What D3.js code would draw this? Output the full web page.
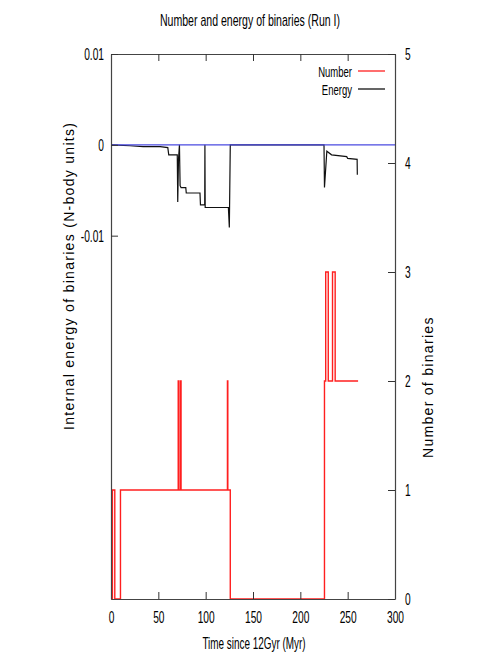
<!DOCTYPE html>
<html>
<head>
<meta charset="utf-8">
<title>Number and energy of binaries</title>
<script src="https://d3js.org/d3.v7.min.js"></script>
<style>
  body { margin: 0; background: #fff; }
  svg text { font-family: 'Liberation Sans', Arial, Helvetica, sans-serif; fill: #000; }
</style>
</head>
<body>
<div id="chart"></div>
<script>
// energy of binaries (N-body units) against time since 12 Gyr (Myr)
const energyTime = [0, 20, 34, 52, 60, 61, 70, 70.5, 71.3, 72.3, 73, 74, 79, 79.5, 94, 94.5, 99, 99.2, 99.5, 124, 125, 126, 126.5, 225, 225.5, 228, 233, 249, 250, 260, 260.2]
const energyValue = [0, -0.0001, -0.0002, -0.0002, -0.0003, -0.0011, -0.0011, -0.0063, -0.0016, 0, -0.0045, -0.0047, -0.0047, -0.0053, -0.0053, -0.0066, -0.0066, 0, -0.0069, -0.0069, -0.0091, 0, 0, 0, -0.0047, -0.0007, -0.0011, -0.0013, -0.0015, -0.0016, -0.0033]

// number of binaries (step changes)
const numberTime = [0, 1.5, 1.5, 4, 4, 10, 10, 71, 71, 71.6, 71.6, 73.4, 73.4, 74, 74, 123, 123, 123.4, 123.4, 126, 126, 225.5, 225.5, 226.8, 226.8, 229.5, 229.5, 234, 234, 236.8, 236.8, 261]
const numberValue = [0, 0, 1, 1, 0, 0, 1, 1, 2, 2, 1, 1, 2, 2, 1, 1, 2, 2, 1, 1, 0, 0, 2, 2, 3, 3, 2, 2, 3, 3, 2, 2]

const xTicks = [0, 50, 100, 150, 200, 250, 300]
const yLeftTicks = [0.01, 0, -0.01]
const yLeftLabels = ["0.01", "0", "-0.01"]
const yRightTicks = [0, 1, 2, 3, 4, 5]

const w = 491, h = 654
const margin = { top: 54, right: 96, bottom: 55, left: 111 }
const squeeze = 0.6   // gnuplot's narrow text

const svg = d3.select("#chart").append("svg").attr("width", w).attr("height", h)

const x = d3.scaleLinear().domain([0, 300]).range([margin.left, w - margin.right])
const yE = d3.scaleLinear().domain([-0.05, 0.01]).range([h - margin.bottom, margin.top])
const yN = d3.scaleLinear().domain([0, 5]).range([h - margin.bottom, margin.top])

const x0 = x.range()[0], x1 = x.range()[1], y0 = yE.range()[0], y1 = yE.range()[1]

function narrow(sel, s) {
  sel.each(function () {
    const t = d3.select(this)
    const xx = +t.attr("x") || 0
    t.attr("x", xx / s).attr("transform", "scale(" + s + ",1)")
  })
}

function label(px, py, txt, size, s, anchor) {
  const g = svg.append("g").attr("transform", "translate(" + px + "," + py + ")")
  g.append("text").attr("text-anchor", anchor || "middle")
    .attr("transform", "scale(" + s + ",1)")
    .style("font-size", size + "px").text(txt)
  return g
}

const energyData = energyTime.map((t, i) => [t, energyValue[i]])
const numberData = numberTime.map((t, i) => [t, numberValue[i]])

svg.append("path")
  .datum(numberData)
  .attr("d", d3.line().x(d => x(d[0])).y(d => yN(d[1])))
  .style("fill", "none").style("stroke", "#ff1f1f").style("stroke-width", 1.4)

svg.append("path")
  .datum(energyData)
  .attr("d", d3.line().x(d => x(d[0])).y(d => yE(d[1])))
  .style("fill", "none").style("stroke", "#111").style("stroke-width", 1.2)

// zero line of energy, drawn over the black curve
svg.append("line")
  .attr("x1", x0).attr("x2", x1).attr("y1", yE(0)).attr("y2", yE(0))
  .style("stroke", "#4a4ae0").style("stroke-width", 1.3)

// axes, gnuplot style: inward ticks
const tick = 7
const xAxisB = d3.axisBottom(x).tickValues(xTicks).tickSizeInner(-tick).tickSizeOuter(0).tickPadding(12)
const xAxisT = d3.axisTop(x).tickValues(xTicks).tickSizeInner(-tick).tickSizeOuter(0).tickFormat("")
const yAxisL = d3.axisLeft(yE).tickValues(yLeftTicks).tickSizeInner(-tick).tickSizeOuter(0).tickPadding(7)
  .tickFormat((d, i) => yLeftLabels[i])
const yAxisR = d3.axisRight(yN).tickValues(yRightTicks).tickSizeInner(-tick).tickSizeOuter(0).tickPadding(10)
  .tickFormat(d3.format("d"))

const gB = svg.append("g").attr("transform", "translate(0," + y0 + ")").call(xAxisB)
const gT = svg.append("g").attr("transform", "translate(0," + y1 + ")").call(xAxisT)
const gL = svg.append("g").attr("transform", "translate(" + x0 + ",0)").call(yAxisL)
const gR = svg.append("g").attr("transform", "translate(" + x1 + ",0)").call(yAxisR)

;[gB, gT, gL, gR].forEach(g => {
  g.attr("font-family", null).attr("font-size", null)
  g.selectAll("path").style("stroke", "#444").style("stroke-width", 1.2)
  g.selectAll("line").style("stroke", "#333")
  g.selectAll("text").style("font-size", "17px")
  narrow(g.selectAll("text"), squeeze)
})

// title and axis titles
label(250, 26, "Number and energy of binaries (Run I)", 16, 0.66)
label(254, 649, "Time since 12Gyr (Myr)", 16, 0.62)

svg.append("text")
  .attr("transform", "translate(74,430) rotate(-90)").attr("text-anchor", "start")
  .style("font-size", "14px").style("letter-spacing", "1.3px")
  .text("Internal energy of binaries (N-body units)")

svg.append("text")
  .attr("transform", "translate(433,458) rotate(-90)").attr("text-anchor", "start")
  .style("font-size", "14px").style("letter-spacing", "1.3px")
  .text("Number of binaries")

// legend
const legendNames = ["Number", "Energy"]
const legendColors = ["#ff1f1f", "#111"]
legendNames.forEach((name, i) => {
  const ly = 71 + i * 18
  label(352, ly + 5.5, name, 14, 0.68, "end")
  svg.append("line")
    .attr("x1", 358).attr("x2", 385).attr("y1", ly).attr("y2", ly)
    .style("stroke", legendColors[i]).style("stroke-width", 1.3)
})
</script>
</body>
</html>
